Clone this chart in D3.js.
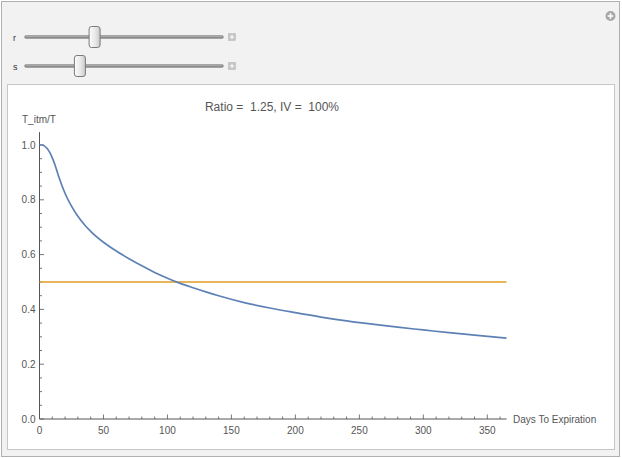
<!DOCTYPE html>
<html>
<head>
<meta charset="utf-8">
<script src="https://cdn.jsdelivr.net/npm/d3@7"></script>
<style>
  body { margin: 0; background: #fff; }
  svg { display: block; font-family: "Liberation Sans", Arial, sans-serif; }
  text { white-space: pre; }
  .tick-label { fill: #555; font-size: 10px; }
</style>
</head>
<body>
<div id="chart"></div>
<script>
// curve
let days = [0, 2, 4, 6, 8, 10, 12, 15, 20, 25, 30, 35, 40, 50, 60, 70, 80, 90, 100, 110, 120, 130, 140, 160, 180, 200, 220, 240, 260, 280, 300, 320, 340, 365];
let tRatio = [1.0, 1.0, 0.996, 0.987, 0.973, 0.953, 0.929, 0.885, 0.823, 0.777, 0.740, 0.710, 0.685, 0.645, 0.613, 0.585, 0.559, 0.535, 0.514, 0.495, 0.479, 0.464, 0.450, 0.425, 0.405, 0.388, 0.372, 0.358, 0.346, 0.335, 0.325, 0.315, 0.306, 0.295];
let threshold = 0.5;
let xTicks = [0, 50, 100, 150, 200, 250, 300, 350];
let yTicks = [0.0, 0.2, 0.4, 0.6, 0.8, 1.0];
let sliders = [{name: "r", pos: 0.35}, {name: "s", pos: 0.275}];
let title = "Ratio =  1.25, IV =  100%";

let width = 622, height = 458;

let svg = d3.select("#chart").append("svg")
    .attr("width", width)
    .attr("height", height);

let defs = svg.append("defs");
let grad = defs.append("linearGradient").attr("id", "thumbGrad");
grad.append("stop").attr("offset", "0%").attr("stop-color", "#fdfdfd");
grad.append("stop").attr("offset", "60%").attr("stop-color", "#e6e6e6");
grad.append("stop").attr("offset", "100%").attr("stop-color", "#c8c8c8");

// outer manipulate panel
svg.append("rect")
    .attr("x", 1.5).attr("y", 1.5)
    .attr("width", 618).attr("height", 455)
    .attr("fill", "#f2f2f2")
    .attr("stroke", "#b0b0b0");

// top-right options button
let btn = svg.append("g").attr("transform", "translate(610.5,16)");
btn.append("circle").attr("r", 5).attr("fill", "#a8a8a8");
btn.append("path").attr("d", "M-2.8,0H2.8M0,-2.8V2.8").attr("stroke", "#fff").attr("stroke-width", 1.6);

// sliders
let sx = d3.scaleLinear().domain([0, 1]).range([26, 222]);
sliders.forEach((s, i) => {
  let cy = 37 + i * 29;
  let g = svg.append("g");
  g.append("text").attr("x", 13).attr("y", cy + 3.5)
      .attr("font-size", 9).attr("fill", "#333").text(s.name);
  g.append("line").attr("x1", sx(0)).attr("x2", sx(1)).attr("y1", cy).attr("y2", cy)
      .attr("stroke", "#8c8c8c").attr("stroke-width", 3.5).attr("stroke-linecap", "round");
  g.append("line").attr("x1", sx(0)).attr("x2", sx(1)).attr("y1", cy - 0.6).attr("y2", cy - 0.6)
      .attr("stroke", "#a9a9a9").attr("stroke-width", 1.2);
  g.append("rect").attr("x", sx(s.pos) - 5.5).attr("y", cy - 10.5)
      .attr("width", 11).attr("height", 21).attr("rx", 2.5)
      .attr("fill", "url(#thumbGrad)").attr("stroke", "#7a7a7a").attr("stroke-width", 1);
  g.append("rect").attr("x", 228.5).attr("y", cy - 3.5).attr("width", 7).attr("height", 7)
      .attr("fill", "#c4c4c4").attr("stroke", "#b5b5b5").attr("stroke-width", 0.5);
  g.append("path").attr("d", `M229.8,${cy}H234.2M232,${cy - 2.2}V${cy + 2.2}`)
      .attr("stroke", "#fff").attr("stroke-width", 1);
});

// inner plot panel
svg.append("rect")
    .attr("x", 7.5).attr("y", 84.5)
    .attr("width", 607).attr("height", 365)
    .attr("fill", "#fff")
    .attr("stroke", "#c6c6c6");

let x = d3.scaleLinear().domain([0, 365]).range([39.5, 506.5]);
let y = d3.scaleLinear().domain([0, 1]).range([419, 145]);

let axisColor = "#555";
let plot = svg.append("g");

// x axis
plot.append("line").attr("x1", x(0)).attr("x2", x(365)).attr("y1", y(0)).attr("y2", y(0))
    .attr("stroke", axisColor).attr("stroke-width", 1);
plot.selectAll(".xminor").data(d3.range(0, 366, 10)).enter().append("line")
    .attr("x1", d => x(d)).attr("x2", d => x(d))
    .attr("y1", y(0)).attr("y2", d => y(0) - (d % 50 == 0 ? 4.5 : 2.5))
    .attr("stroke", axisColor).attr("stroke-width", 0.8);
plot.selectAll(".xlab").data(xTicks).enter().append("text")
    .attr("class", "tick-label")
    .attr("x", d => x(d)).attr("y", y(0) + 15)
    .attr("text-anchor", "middle").text(d => d);

// y axis
plot.append("line").attr("x1", x(0)).attr("x2", x(0)).attr("y1", y(0)).attr("y2", y(1.047))
    .attr("stroke", axisColor).attr("stroke-width", 1);
plot.selectAll(".yminor").data(d3.range(0, 21).map(i => i * 0.05)).enter().append("line")
    .attr("x1", x(0)).attr("x2", (d, i) => x(0) + (i % 4 == 0 ? 4.5 : 2.5))
    .attr("y1", d => y(d)).attr("y2", d => y(d))
    .attr("stroke", axisColor).attr("stroke-width", 0.8);
plot.selectAll(".ylab").data(yTicks).enter().append("text")
    .attr("class", "tick-label")
    .attr("x", x(0) - 4).attr("y", d => y(d) + 3.5)
    .attr("text-anchor", "end").text(d => d.toFixed(1));

// axis labels and title
plot.append("text").attr("x", 22).attr("y", 123).attr("font-size", 10).attr("fill", "#555").text("T_itm/T");
plot.append("text").attr("x", 513).attr("y", y(0) + 3.5).attr("font-size", 10).attr("fill", "#555").text("Days To Expiration");
plot.append("text").attr("x", 272).attr("y", 111).attr("text-anchor", "middle")
    .attr("font-size", 12).attr("fill", "#555").text(title);

// threshold line
plot.append("line").attr("x1", x(0)).attr("x2", x(365))
    .attr("y1", y(threshold)).attr("y2", y(threshold))
    .attr("stroke", "#e19c24").attr("stroke-width", 1.7);

// curve
let line = d3.line().x((d, i) => x(days[i])).y(d => y(d)).curve(d3.curveMonotoneX);
plot.append("path").datum(tRatio)
    .attr("d", line)
    .attr("fill", "none")
    .attr("stroke", "#5e81b5")
    .attr("stroke-width", 1.7);
</script>
</body>
</html>
